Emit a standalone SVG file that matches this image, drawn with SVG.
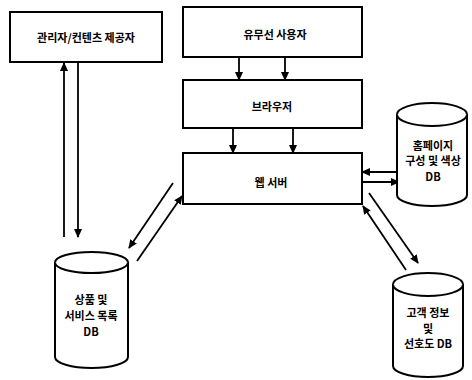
<svg xmlns="http://www.w3.org/2000/svg" width="472" height="380" viewBox="0 0 472 380">
<style>
.box{fill:#fff;stroke:#000;stroke-width:2}
.cyl{fill:#fff;stroke:#000;stroke-width:2}
.lbl{font-family:"Noto Sans CJK KR","Noto Sans",sans-serif;font-size:11px;font-weight:bold;fill:#000;text-anchor:middle}
.arr{stroke:#000;stroke-width:1.8;fill:none;marker-end:url(#ah)}
</style>
<defs>
<marker id="ah" markerUnits="userSpaceOnUse" markerWidth="9" markerHeight="8" refX="8" refY="4" orient="auto">
<path d="M0,0 L9,4 L0,8 z" fill="#000"/>
</marker>
</defs>
<rect width="472" height="380" fill="#fff"/>
<g id="connectors">
<line class="arr" x1="239" y1="57" x2="239" y2="80"/>
<line class="arr" x1="285" y1="57" x2="285" y2="80"/>
<line class="arr" x1="233" y1="128" x2="233" y2="153"/>
<line class="arr" x1="293" y1="128" x2="293" y2="153"/>
<line class="arr" x1="64" y1="237" x2="64" y2="63"/>
<line class="arr" x1="78" y1="63" x2="78" y2="237"/>
<line class="arr" x1="173" y1="183" x2="129" y2="248"/>
<line class="arr" x1="137" y1="261" x2="182" y2="196"/>
<line class="arr" x1="399" y1="172" x2="362" y2="172"/>
<line class="arr" x1="362" y1="182" x2="399" y2="182"/>
<line class="arr" x1="369" y1="193" x2="418" y2="263"/>
<line class="arr" x1="406" y1="270" x2="363" y2="206"/>
</g>
<g id="admin">
<rect class="box" x="10" y="12" width="152" height="50"/>
<text class="lbl" x="86" y="42">관리자/컨텐츠 제공자</text>
</g>
<g id="user">
<rect class="box" x="183" y="7" width="179" height="50"/>
<text class="lbl" x="275" y="39">유무선 사용자</text>
</g>
<g id="browser">
<rect class="box" x="183" y="80" width="179" height="48"/>
<text class="lbl" x="272" y="111">브라우저</text>
</g>
<g id="webserver">
<rect class="box" x="183" y="153" width="179" height="51"/>
<text class="lbl" x="271" y="187">웹 서버</text>
</g>
<g id="homepage-db">
<path class="cyl" d="M397,114.5 L397,195 A35,11 0 0 0 467,195 L467,114.5 A35,11.5 0 0 0 397,114.5 Z"/>
<path class="cyl" fill="none" d="M397,114.5 A35,11.5 0 0 0 467,114.5"/>
<text class="lbl" x="433" y="150">홈페이지</text>
<text class="lbl" x="433" y="165">구성 및 색상</text>
<text class="lbl" x="433" y="181">DB</text>
</g>
<g id="customer-db">
<path class="cyl" d="M393,284.5 L393,366 A35,11 0 0 0 463,366 L463,284.5 A35,11.5 0 0 0 393,284.5 Z"/>
<path class="cyl" fill="none" d="M393,284.5 A35,11.5 0 0 0 463,284.5"/>
<text class="lbl" x="428" y="316.5">고객 정보</text>
<text class="lbl" x="428" y="333">및</text>
<text class="lbl" x="428" y="348">선호도 DB</text>
</g>
<g id="product-db">
<path class="cyl" d="M55,262.5 L55,357 A36.5,11 0 0 0 128,357 L128,262.5 A36.5,10.5 0 0 0 55,262.5 Z"/>
<path class="cyl" fill="none" d="M55,262.5 A36.5,10.5 0 0 0 128,262.5"/>
<text class="lbl" x="91" y="304">상품 및</text>
<text class="lbl" x="91" y="320">서비스 목록</text>
<text class="lbl" x="91" y="336">DB</text>
</g>
</svg>
